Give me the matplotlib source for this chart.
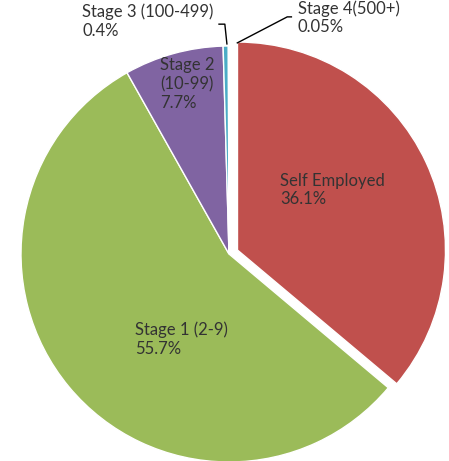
import matplotlib.pyplot as plt

plt.rcParams['font.family'] = ['Lato', 'DejaVu Sans']

labels = ['Self Employed', 'Stage 1 (2-9)', 'Stage 2\n(10-99)', 'Stage 3 (100-499)', 'Stage 4(500+)']
values = [36.1, 55.7, 7.7, 0.4, 0.05]
pct_text = ['36.1%', '55.7%', '7.7%', '0.4%', '0.05%']
colors = ['#C0504D', '#9BBB59', '#8064A2', '#4BACC6', '#F79646']
explode = [0.045, 0, 0, 0, 0]

fig = plt.figure(figsize=(4.49, 4.61), dpi=100)
ax = fig.add_axes([0, 0, 1, 1])

ax.pie(values, colors=colors, explode=explode, startangle=90, counterclock=False,
       radius=1.0, wedgeprops=dict(edgecolor='white', linewidth=1.0))

tc = '#333333'
fs = 12
ls = 1.2
ax.text(0.245, 0.39, labels[0] + '\n' + pct_text[0], ha='left', va='top', fontsize=fs, color=tc, linespacing=ls)
ax.text(-0.452, -0.325, labels[1] + '\n' + pct_text[1], ha='left', va='top', fontsize=fs, color=tc, linespacing=ls)
ax.text(-0.33, 0.945, labels[2] + '\n' + pct_text[2], ha='left', va='top', fontsize=fs, color=tc, linespacing=ls)
ax.text(-0.705, 1.205, labels[3] + '\n' + pct_text[3], ha='left', va='top', fontsize=fs, color=tc, linespacing=ls)
ax.text(0.33, 1.22, labels[4] + '\n' + pct_text[4], ha='left', va='top', fontsize=fs, color=tc, linespacing=ls)

# leader lines
ax.plot([-0.048, -0.02, -0.01], [1.105, 1.105, 1.01], color='black', lw=1)
ax.plot([0.3, 0.28, 0.04], [1.14, 1.14, 1.015], color='black', lw=1)

ax.set_xlim(-229 / 208, 220 / 208)
ax.set_ylim(-207 / 208, 254 / 208)
ax.set_aspect('equal')
ax.axis('off')

fig.savefig('out.png', dpi=100)
